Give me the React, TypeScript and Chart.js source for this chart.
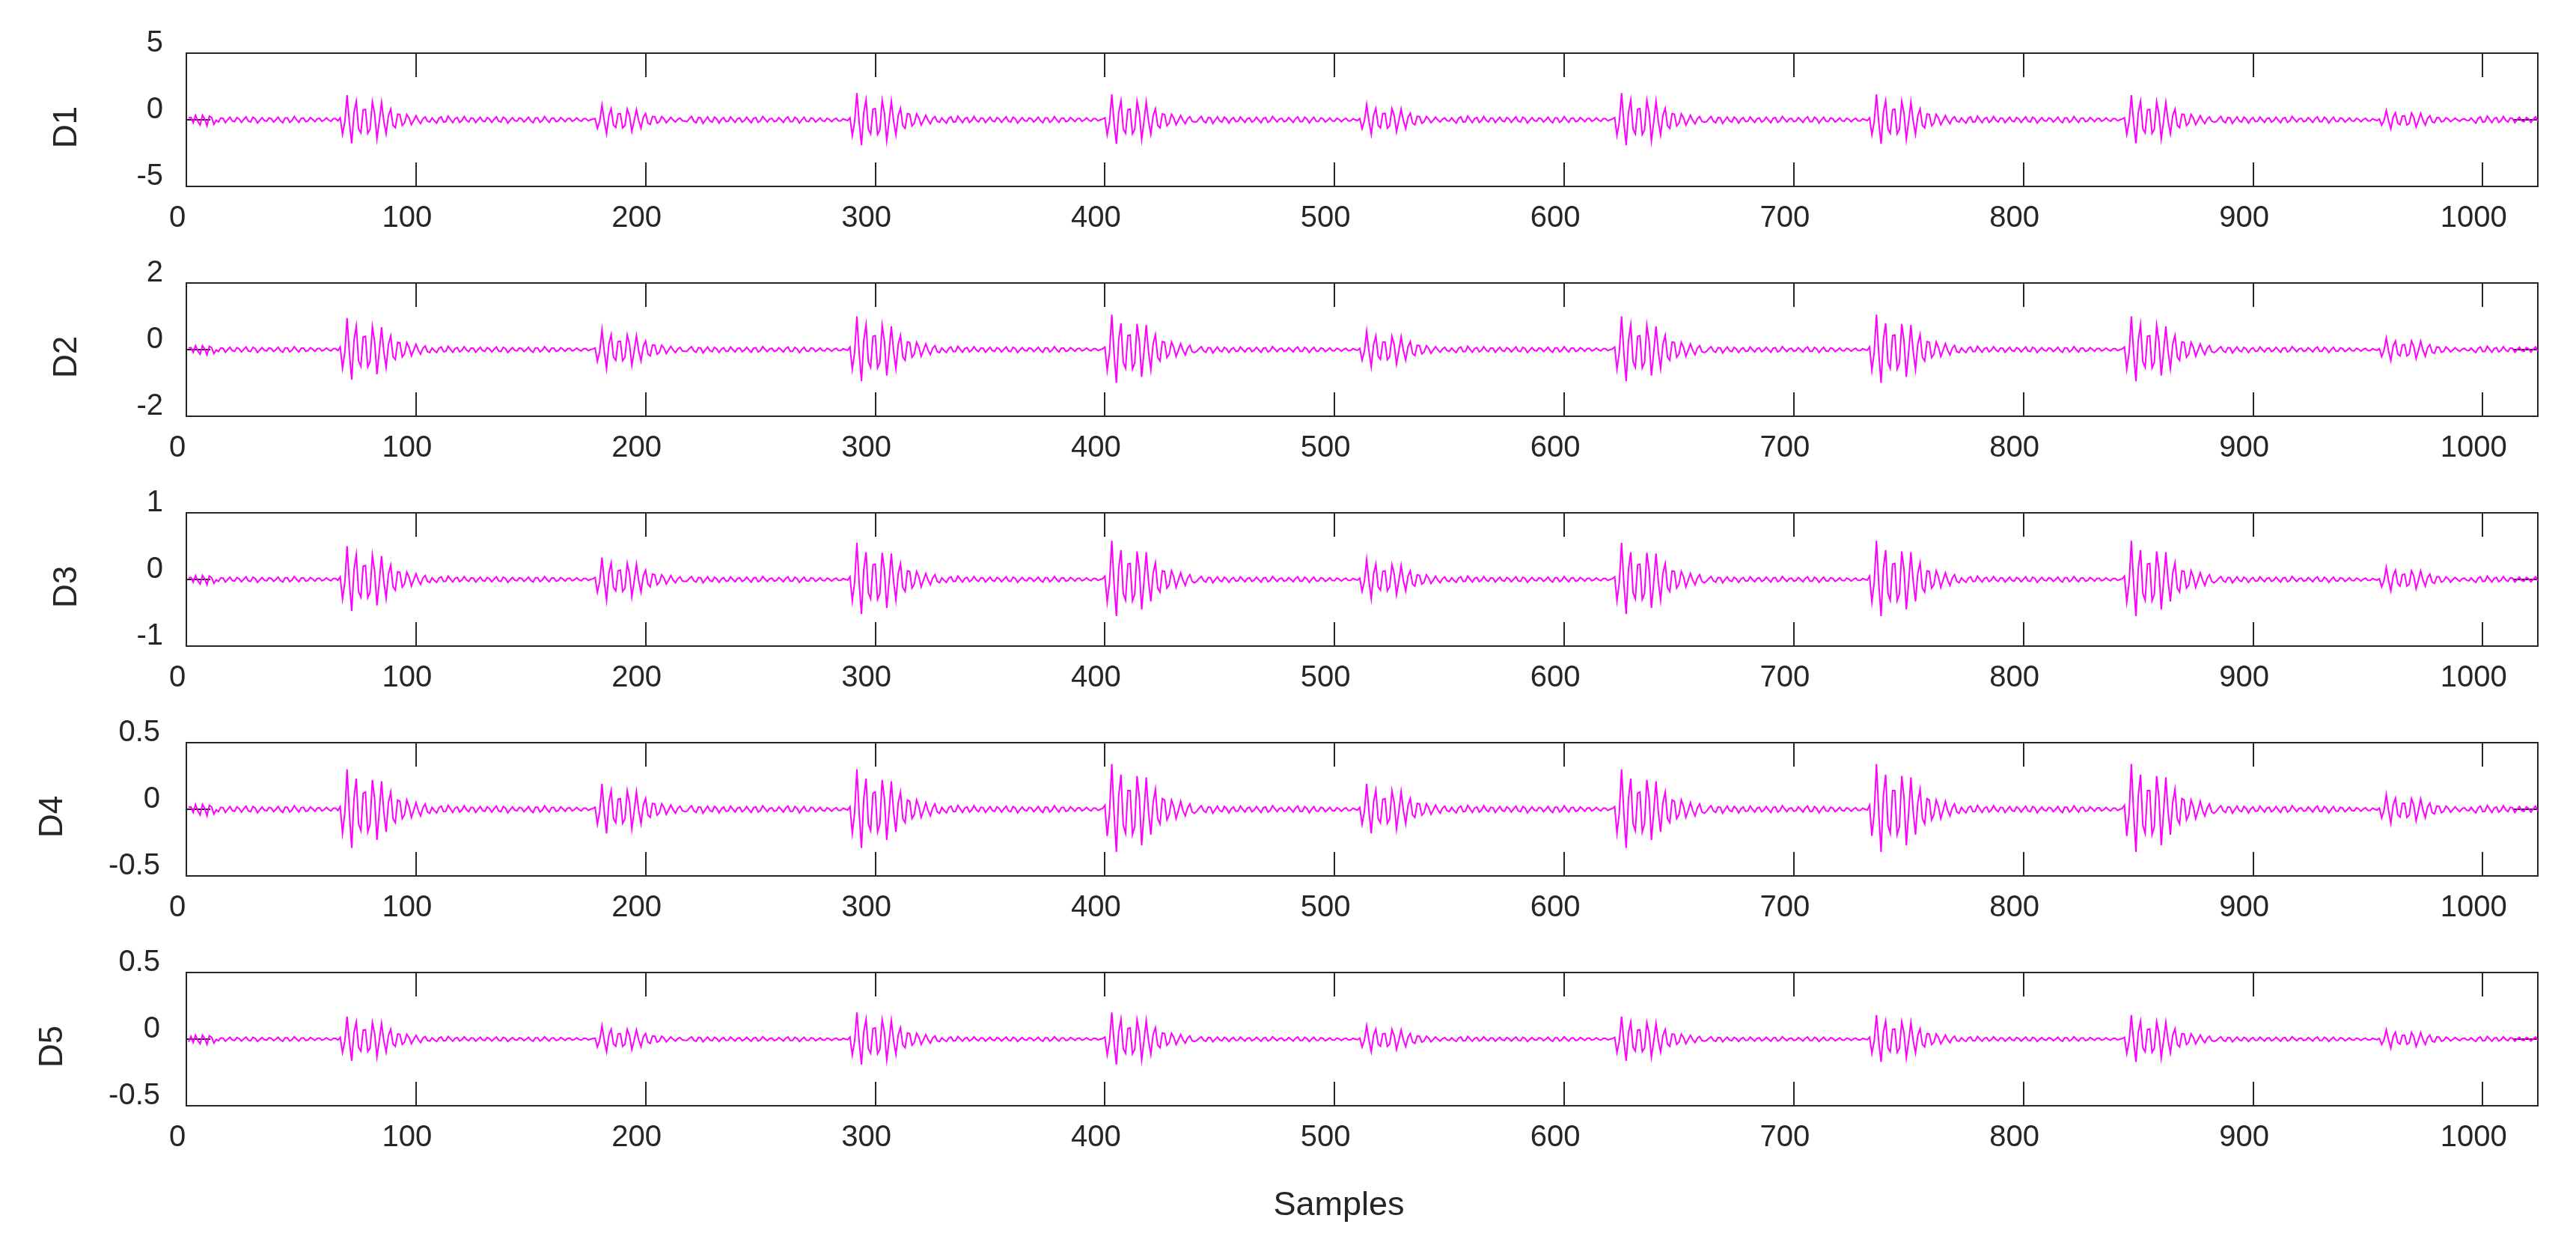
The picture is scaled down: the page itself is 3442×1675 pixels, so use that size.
import { useEffect, useRef } from 'react';
import { Chart, registerables } from 'chart.js';

Chart.register(...registerables);

// ---------------- data ----------------
const xTicks = [0, 100, 200, 300, 400, 500, 600, 700, 800, 900, 1000];
const panelLabels = ['D1', 'D2', 'D3', 'D4', 'D5'];
const yMins = [-5, -2, -1, -0.5, -0.5];
const yMaxs = [5, 2, 1, 0.5, 0.5];
const yTickValues = [[-5, 0, 5], [-2, 0, 2], [-1, 0, 1], [-0.5, 0, 0.5], [-0.5, 0, 0.5]];

// ---- D1 ----
const d1Lead = [.14,.17,-.22,.34,-.11,-.39,.34,.06,-.45,.28,.17,-.34,-.03,-.17,.14,.11,-.22,0,.2,-.08,-.14,.17,.06,-.2,.03,.22,-.11,-.17,.2,.08,-.25,-.03,.17,-.06,-.11,.14,.08,-.17,0,.2,-.08,-.22,.14,.14,-.2,-.06,.25,0,-.2,.11,.14,-.14,-.08,.17,.03,-.14,.08,.11,-.11,-.03,.14,-.03,-.11,.08,.08,-.08];
const d1GapA = [.14,-.08,-.25,.11,.22,-.17,-.14,.28,.03,-.22,.08,.17,-.2,-.06,.25,-.03,-.17,.14,.11,-.22,0,.2,-.08,-.14,.17,.06,-.2,.03,.22,-.11,-.17,.2,.08,-.25,-.03,.17,-.06,-.11,.14,.08,-.17,0,.2,-.08,-.22,.14,.14,-.2,-.06,.25,0,-.2,.11,.14,-.14,-.08,.17,.03,-.14,.08,.11,-.11,-.03,.14,-.03,-.11,.08,.08,-.08,0,.06];
const d1GapB = [-.14,.08,.25,-.11,-.22,.17,.14,-.28,-.03,.22,-.08,-.17,.2,.06,-.25,.03,.17,-.14,-.11,.22,0,-.2,.08,.14,-.17,-.06,.2,-.03,-.22,.11,.17,-.2,-.08,.25,.03,-.17,.06,.11,-.14,-.08,.17,0,-.2,.08,.22,-.14,-.14,.2,.06,-.25,0,.2,-.11,-.14,.14,.08,-.17,-.03,.14,-.08,-.11,.11,.03,-.14,.03,.11,-.08,-.08,.08,0,-.06];
const d1Tail = [.14,-.08,-.25,.11,.22,-.17,-.14,.28,.03,-.22,.08,.17,-.2,-.06,.25,-.03,-.17,.14,.11,-.22,0,.2,-.08,-.14,.17,.06,-.2,.03,.22,-.11];
const d1B1 = [.15,-1.09,-.17,1.85,-.19,-1.76,.52,1.39,-.67,-.98,.74,.78,-1.02,-.7,1.35,.46,-1.44,-.15,1.3,-.11,-1.05,.3,.8,-.41,-.59,.43,.39,-.43,-.24,.41,.13,-.37,-.04,.31,-.04,-.28,.07,.22,-.11,-.17];
const d1B2 = [.09,-.65,-.1,1.1,-.11,-1.05,.31,.83,-.4,-.58,.44,.46,-.61,-.42,.8,.28,-.86,-.09,.77,-.07,-.63,.18,.47,-.24,-.35,.25,.23,-.25,-.14,.24,.08,-.22,-.02,.19,-.02,-.17,.04,.13,-.07,-.1];
const d1B3 = [.16,-1.18,-.18,2,-.2,-1.9,.56,1.5,-.72,-1.06,.8,.84,-1.1,-.76,1.46,.5,-1.56,-.16,1.4,-.12,-1.14,.32,.86,-.44,-.64,.46,.42,-.46,-.26,.44,.14,-.4,-.04,.34,-.04,-.3,.08,.24,-.12,-.18];
const d1B4 = [.15,-1.12,-.17,1.9,-.19,-1.81,.53,1.43,-.68,-1.01,.76,.8,-1.05,-.72,1.39,.48,-1.48,-.15,1.33,-.11,-1.08,.3,.82,-.42,-.61,.44,.4,-.44,-.25,.42,.13,-.38,-.04,.32,-.04,-.29,.08,.23,-.11,-.17];
const d1B5 = [.09,-.68,-.1,1.15,-.12,-1.09,.32,.86,-.41,-.61,.46,.48,-.63,-.44,.84,.29,-.9,-.09,.81,-.07,-.66,.18,.49,-.25,-.37,.26,.24,-.26,-.15,.25,.08,-.23,-.02,.2,-.02,-.17,.05,.14,-.07,-.1];
const d1B6 = [.16,-1.18,-.18,2,-.2,-1.9,.56,1.5,-.72,-1.06,.8,.84,-1.1,-.76,1.46,.5,-1.56,-.16,1.4,-.12,-1.14,.32,.86,-.44,-.64,.46,.42,-.46,-.26,.44,.14,-.4,-.04,.34,-.04,-.3,.08,.24,-.12,-.18];
const d1B7 = [.15,-1.12,-.17,1.9,-.19,-1.81,.53,1.43,-.68,-1.01,.76,.8,-1.05,-.72,1.39,.48,-1.48,-.15,1.33,-.11,-1.08,.3,.82,-.42,-.61,.44,.4,-.44,-.25,.42,.13,-.38,-.04,.32,-.04,-.29,.08,.23,-.11,-.17];
const d1B8 = [.15,-1.09,-.17,1.85,-.19,-1.76,.52,1.39,-.67,-.98,.74,.78,-1.02,-.7,1.35,.46,-1.44,-.15,1.3,-.11,-1.05,.3,.8,-.41,-.59,.43,.39,-.43,-.24,.41,.13,-.37,-.04,.31,-.04,-.28,.07,.22,-.11,-.17];
const d1B9 = [.06,-.41,-.06,.7,-.07,-.67,.2,.53,-.25,-.37,.28,.29,-.39,-.27,.51,.18,-.55,-.06,.49,-.04,-.4,.11,.3,-.15,-.22,.16,.15,-.16,-.09,.15,.05,-.14,-.01,.12,-.01,-.11,.03,.08,-.04,-.06];

// ---- D2 ----
const d2Lead = [.05,.06,-.08,.12,-.04,-.14,.12,.02,-.16,.1,.06,-.12,-.01,-.06,.05,.04,-.08,0,.07,-.03,-.05,.06,.02,-.07,.01,.08,-.04,-.06,.07,.03,-.09,-.01,.06,-.02,-.04,.05,.03,-.06,0,.07,-.03,-.08,.05,.05,-.07,-.02,.09,0,-.07,.04,.05,-.05,-.03,.06,.01,-.05,.03,.04,-.04,-.01,.05,-.01,-.04,.03,.03,-.03];
const d2GapA = [.05,-.03,-.09,.04,.08,-.06,-.05,.1,.01,-.08,.03,.06,-.07,-.02,.09,-.01,-.06,.05,.04,-.08,0,.07,-.03,-.05,.06,.02,-.07,.01,.08,-.04,-.06,.07,.03,-.09,-.01,.06,-.02,-.04,.05,.03,-.06,0,.07,-.03,-.08,.05,.05,-.07,-.02,.09,0,-.07,.04,.05,-.05,-.03,.06,.01,-.05,.03,.04,-.04,-.01,.05,-.01,-.04,.03,.03,-.03,0,.02];
const d2GapB = [-.05,.03,.09,-.04,-.08,.06,.05,-.1,-.01,.08,-.03,-.06,.07,.02,-.09,.01,.06,-.05,-.04,.08,0,-.07,.03,.05,-.06,-.02,.07,-.01,-.08,.04,.06,-.07,-.03,.09,.01,-.06,.02,.04,-.05,-.03,.06,0,-.07,.03,.08,-.05,-.05,.07,.02,-.09,0,.07,-.04,-.05,.05,.03,-.06,-.01,.05,-.03,-.04,.04,.01,-.05,.01,.04,-.03,-.03,.03,0,-.02];
const d2Tail = [.05,-.03,-.09,.04,.08,-.06,-.05,.1,.01,-.08,.03,.06,-.07,-.02,.09,-.01,-.06,.05,.04,-.08,0,.07,-.03,-.05,.06,.02,-.07,.01,.08,-.04];
const d2B1 = [.08,-.56,-.09,.95,-.1,-.9,.27,.71,-.34,-.5,.38,.4,-.52,-.36,.69,.24,-.74,-.08,.67,-.06,-.54,.15,.41,-.21,-.3,.22,.2,-.22,-.12,.21,.07,-.19,-.02,.16,-.02,-.14,.04,.11,-.06,-.09];
const d2B2 = [.05,-.35,-.05,.6,-.06,-.57,.17,.45,-.22,-.32,.24,.25,-.33,-.23,.44,.15,-.47,-.05,.42,-.04,-.34,.1,.26,-.13,-.19,.14,.13,-.14,-.08,.13,.04,-.12,-.01,.1,-.01,-.09,.02,.07,-.04,-.05];
const d2B3 = [.08,-.59,-.09,1,-.1,-.95,.28,.75,-.36,-.53,.4,.42,-.55,-.38,.73,.25,-.78,-.08,.7,-.06,-.57,.16,.43,-.22,-.32,.23,.21,-.23,-.13,.22,.07,-.2,-.02,.17,-.02,-.15,.04,.12,-.06,-.09];
const d2B4 = [.08,-.62,-.09,1.05,-.11,-1,.29,.79,-.38,-.56,.42,.44,-.58,-.4,.77,.26,-.82,-.08,.74,-.06,-.6,.17,.45,-.23,-.34,.24,.22,-.24,-.14,.23,.07,-.21,-.02,.18,-.02,-.16,.04,.13,-.06,-.09];
const d2B5 = [.04,-.32,-.05,.55,-.06,-.52,.15,.41,-.2,-.29,.22,.23,-.3,-.21,.4,.14,-.43,-.04,.39,-.03,-.31,.09,.24,-.12,-.18,.13,.12,-.13,-.07,.12,.04,-.11,-.01,.09,-.01,-.08,.02,.07,-.03,-.05];
const d2B6 = [.08,-.59,-.09,1,-.1,-.95,.28,.75,-.36,-.53,.4,.42,-.55,-.38,.73,.25,-.78,-.08,.7,-.06,-.57,.16,.43,-.22,-.32,.23,.21,-.23,-.13,.22,.07,-.2,-.02,.17,-.02,-.15,.04,.12,-.06,-.09];
const d2B7 = [.08,-.62,-.09,1.05,-.11,-1,.29,.79,-.38,-.56,.42,.44,-.58,-.4,.77,.26,-.82,-.08,.74,-.06,-.6,.17,.45,-.23,-.34,.24,.22,-.24,-.14,.23,.07,-.21,-.02,.18,-.02,-.16,.04,.13,-.06,-.09];
const d2B8 = [.08,-.59,-.09,1,-.1,-.95,.28,.75,-.36,-.53,.4,.42,-.55,-.38,.73,.25,-.78,-.08,.7,-.06,-.57,.16,.43,-.22,-.32,.23,.21,-.23,-.13,.22,.07,-.2,-.02,.17,-.02,-.15,.04,.12,-.06,-.09];
const d2B9 = [.03,-.21,-.03,.35,-.04,-.33,.1,.26,-.13,-.19,.14,.15,-.19,-.13,.26,.09,-.27,-.03,.25,-.02,-.2,.06,.15,-.08,-.11,.08,.07,-.08,-.05,.08,.02,-.07,-.01,.06,-.01,-.05,.01,.04,-.02,-.03];

// ---- D3 ----
const d3Lead = [.025,.03,-.04,.06,-.02,-.07,.06,.01,-.08,.05,.03,-.06,-.005,-.03,.025,.02,-.04,0,.035,-.015,-.025,.03,.01,-.035,.005,.04,-.02,-.03,.035,.015,-.045,-.005,.03,-.01,-.02,.025,.015,-.03,0,.035,-.015,-.04,.025,.025,-.035,-.01,.045,0,-.035,.02,.025,-.025,-.015,.03,.005,-.025,.015,.02,-.02,-.005,.025,-.005,-.02,.015,.015,-.015];
const d3GapA = [.025,-.015,-.045,.02,.04,-.03,-.025,.05,.005,-.04,.015,.03,-.035,-.01,.045,-.005,-.03,.025,.02,-.04,0,.035,-.015,-.025,.03,.01,-.035,.005,.04,-.02,-.03,.035,.015,-.045,-.005,.03,-.01,-.02,.025,.015,-.03,0,.035,-.015,-.04,.025,.025,-.035,-.01,.045,0,-.035,.02,.025,-.025,-.015,.03,.005,-.025,.015,.02,-.02,-.005,.025,-.005,-.02,.015,.015,-.015,0,.01];
const d3GapB = [-.025,.015,.045,-.02,-.04,.03,.025,-.05,-.005,.04,-.015,-.03,.035,.01,-.045,.005,.03,-.025,-.02,.04,0,-.035,.015,.025,-.03,-.01,.035,-.005,-.04,.02,.03,-.035,-.015,.045,.005,-.03,.01,.02,-.025,-.015,.03,0,-.035,.015,.04,-.025,-.025,.035,.01,-.045,0,.035,-.02,-.025,.025,.015,-.03,-.005,.025,-.015,-.02,.02,.005,-.025,.005,.02,-.015,-.015,.015,0,-.01];
const d3Tail = [.025,-.015,-.045,.02,.04,-.03,-.025,.05,.005,-.04,.015,.03,-.035,-.01,.045,-.005,-.03,.025,.02,-.04,0,.035,-.015,-.025,.03,.01,-.035,.005,.04,-.02];
const d3B1 = [.04,-.295,-.045,.5,-.05,-.475,.14,.375,-.18,-.265,.2,.21,-.275,-.19,.365,.125,-.39,-.04,.35,-.03,-.285,.08,.215,-.11,-.16,.115,.105,-.115,-.065,.11,.035,-.1,-.01,.085,-.01,-.075,.02,.06,-.03,-.045];
const d3B2 = [.03,-.19,-.03,.33,-.03,-.31,.09,.25,-.12,-.17,.13,.14,-.18,-.13,.24,.08,-.26,-.03,.23,-.02,-.19,.05,.14,-.07,-.11,.08,.07,-.08,-.04,.07,.02,-.07,-.01,.06,-.01,-.05,.01,.04,-.02,-.03];
const d3B3 = [.04,-.32,-.05,.55,-.06,-.52,.15,.41,-.2,-.29,.22,.23,-.3,-.21,.4,.14,-.43,-.04,.39,-.03,-.31,.09,.24,-.12,-.18,.13,.12,-.13,-.07,.12,.04,-.11,-.01,.09,-.01,-.08,.02,.07,-.03,-.05];
const d3B4 = [.05,-.34,-.05,.58,-.06,-.55,.16,.44,-.21,-.31,.23,.24,-.32,-.22,.42,.15,-.45,-.05,.41,-.03,-.33,.09,.25,-.13,-.19,.13,.12,-.13,-.08,.13,.04,-.12,-.01,.1,-.01,-.09,.02,.07,-.03,-.05];
const d3B5 = [.02,-.18,-.03,.3,-.03,-.29,.08,.23,-.11,-.16,.12,.13,-.17,-.11,.22,.08,-.23,-.02,.21,-.02,-.17,.05,.13,-.07,-.1,.07,.06,-.07,-.04,.07,.02,-.06,-.01,.05,-.01,-.05,.01,.04,-.02,-.03];
const d3B6 = [.04,-.32,-.05,.55,-.06,-.52,.15,.41,-.2,-.29,.22,.23,-.3,-.21,.4,.14,-.43,-.04,.39,-.03,-.31,.09,.24,-.12,-.18,.13,.12,-.13,-.07,.12,.04,-.11,-.01,.09,-.01,-.08,.02,.07,-.03,-.05];
const d3B7 = [.05,-.34,-.05,.58,-.06,-.55,.16,.44,-.21,-.31,.23,.24,-.32,-.22,.42,.15,-.45,-.05,.41,-.03,-.33,.09,.25,-.13,-.19,.13,.12,-.13,-.08,.13,.04,-.12,-.01,.1,-.01,-.09,.02,.07,-.03,-.05];
const d3B8 = [.05,-.34,-.05,.58,-.06,-.55,.16,.44,-.21,-.31,.23,.24,-.32,-.22,.42,.15,-.45,-.05,.41,-.03,-.33,.09,.25,-.13,-.19,.13,.12,-.13,-.08,.13,.04,-.12,-.01,.1,-.01,-.09,.02,.07,-.03,-.05];
const d3B9 = [.01,-.11,-.02,.18,-.02,-.17,.05,.14,-.06,-.1,.07,.08,-.1,-.07,.13,.05,-.14,-.01,.13,-.01,-.1,.03,.08,-.04,-.06,.04,.04,-.04,-.02,.04,.01,-.04,0,.03,0,-.03,.01,.02,-.01,-.02];

// ---- D4 ----
const d4Lead = [.015,.018,-.024,.036,-.012,-.042,.036,.006,-.048,.03,.018,-.036,-.003,-.018,.015,.012,-.024,0,.021,-.009,-.015,.018,.006,-.021,.003,.024,-.012,-.018,.021,.009,-.027,-.003,.018,-.006,-.012,.015,.009,-.018,0,.021,-.009,-.024,.015,.015,-.021,-.006,.027,0,-.021,.012,.015,-.015,-.009,.018,.003,-.015,.009,.012,-.012,-.003,.015,-.003,-.012,.009,.009,-.009];
const d4GapA = [.015,-.009,-.027,.012,.024,-.018,-.015,.03,.003,-.024,.009,.018,-.021,-.006,.027,-.003,-.018,.015,.012,-.024,0,.021,-.009,-.015,.018,.006,-.021,.003,.024,-.012,-.018,.021,.009,-.027,-.003,.018,-.006,-.012,.015,.009,-.018,0,.021,-.009,-.024,.015,.015,-.021,-.006,.027,0,-.021,.012,.015,-.015,-.009,.018,.003,-.015,.009,.012,-.012,-.003,.015,-.003,-.012,.009,.009,-.009,0,.006];
const d4GapB = [-.015,.009,.027,-.012,-.024,.018,.015,-.03,-.003,.024,-.009,-.018,.021,.006,-.027,.003,.018,-.015,-.012,.024,0,-.021,.009,.015,-.018,-.006,.021,-.003,-.024,.012,.018,-.021,-.009,.027,.003,-.018,.006,.012,-.015,-.009,.018,0,-.021,.009,.024,-.015,-.015,.021,.006,-.027,0,.021,-.012,-.015,.015,.009,-.018,-.003,.015,-.009,-.012,.012,.003,-.015,.003,.012,-.009,-.009,.009,0,-.006];
const d4Tail = [.015,-.009,-.027,.012,.024,-.018,-.015,.03,.003,-.024,.009,.018,-.021,-.006,.027,-.003,-.018,.015,.012,-.024,0,.021,-.009,-.015,.018,.006,-.021,.003,.024,-.012];
const d4B1 = [.02,-.18,-.03,.3,-.03,-.29,.08,.23,-.11,-.16,.12,.13,-.17,-.11,.22,.08,-.23,-.02,.21,-.02,-.17,.05,.13,-.07,-.1,.07,.06,-.07,-.04,.07,.02,-.06,-.01,.05,-.01,-.05,.01,.04,-.02,-.03];
const d4B2 = [.015,-.112,-.017,.19,-.019,-.181,.053,.143,-.068,-.101,.076,.08,-.105,-.072,.139,.048,-.148,-.015,.133,-.011,-.108,.03,.082,-.042,-.061,.044,.04,-.044,-.025,.042,.013,-.038,-.004,.032,-.004,-.029,.008,.023,-.011,-.017];
const d4B3 = [.02,-.18,-.03,.3,-.03,-.29,.08,.23,-.11,-.16,.12,.13,-.17,-.11,.22,.08,-.23,-.02,.21,-.02,-.17,.05,.13,-.07,-.1,.07,.06,-.07,-.04,.07,.02,-.06,-.01,.05,-.01,-.05,.01,.04,-.02,-.03];
const d4B4 = [.03,-.2,-.03,.34,-.03,-.32,.1,.26,-.12,-.18,.14,.14,-.19,-.13,.25,.09,-.27,-.03,.24,-.02,-.19,.05,.15,-.07,-.11,.08,.07,-.08,-.04,.07,.02,-.07,-.01,.06,-.01,-.05,.01,.04,-.02,-.03];
const d4B5 = [.015,-.112,-.017,.19,-.019,-.181,.053,.143,-.068,-.101,.076,.08,-.105,-.072,.139,.048,-.148,-.015,.133,-.011,-.108,.03,.082,-.042,-.061,.044,.04,-.044,-.025,.042,.013,-.038,-.004,.032,-.004,-.029,.008,.023,-.011,-.017];
const d4B6 = [.02,-.18,-.03,.3,-.03,-.29,.08,.23,-.11,-.16,.12,.13,-.17,-.11,.22,.08,-.23,-.02,.21,-.02,-.17,.05,.13,-.07,-.1,.07,.06,-.07,-.04,.07,.02,-.06,-.01,.05,-.01,-.05,.01,.04,-.02,-.03];
const d4B7 = [.03,-.2,-.03,.34,-.03,-.32,.1,.26,-.12,-.18,.14,.14,-.19,-.13,.25,.09,-.27,-.03,.24,-.02,-.19,.05,.15,-.07,-.11,.08,.07,-.08,-.04,.07,.02,-.07,-.01,.06,-.01,-.05,.01,.04,-.02,-.03];
const d4B8 = [.03,-.2,-.03,.34,-.03,-.32,.1,.26,-.12,-.18,.14,.14,-.19,-.13,.25,.09,-.27,-.03,.24,-.02,-.19,.05,.15,-.07,-.11,.08,.07,-.08,-.04,.07,.02,-.07,-.01,.06,-.01,-.05,.01,.04,-.02,-.03];
const d4B9 = [.009,-.065,-.01,.11,-.011,-.105,.031,.083,-.04,-.058,.044,.046,-.061,-.042,.08,.028,-.086,-.009,.077,-.007,-.063,.018,.047,-.024,-.035,.025,.023,-.025,-.014,.024,.008,-.022,-.002,.019,-.002,-.017,.004,.013,-.007,-.01];

// ---- D5 ----
const d5Lead = [-.02,.02,-.025,.03,-.01,-.035,.03,.005,-.04,.025,.015,-.03,-.002,-.012,.01,.008,-.016,0,.014,-.006,-.01,.012,.004,-.014,.002,.016,-.008,-.012,.014,.006,-.018,-.002,.012,-.004,-.008,.01,.006,-.012,0,.014,-.006,-.016,.01,.01,-.014,-.004,.018,0,-.014,.008,.01,-.01,-.006,.012,.002,-.01,.006,.008,-.008,-.002,.01,-.002,-.008,.006,.006,-.006];
const d5GapA = [.01,-.006,-.018,.008,.016,-.012,-.01,.02,.002,-.016,.006,.012,-.014,-.004,.018,-.002,-.012,.01,.008,-.016,0,.014,-.006,-.01,.012,.004,-.014,.002,.016,-.008,-.012,.014,.006,-.018,-.002,.012,-.004,-.008,.01,.006,-.012,0,.014,-.006,-.016,.01,.01,-.014,-.004,.018,0,-.014,.008,.01,-.01,-.006,.012,.002,-.01,.006,.008,-.008,-.002,.01,-.002,-.008,.006,.006,-.006,0,.004];
const d5GapB = [-.01,.006,.018,-.008,-.016,.012,.01,-.02,-.002,.016,-.006,-.012,.014,.004,-.018,.002,.012,-.01,-.008,.016,0,-.014,.006,.01,-.012,-.004,.014,-.002,-.016,.008,.012,-.014,-.006,.018,.002,-.012,.004,.008,-.01,-.006,.012,0,-.014,.006,.016,-.01,-.01,.014,.004,-.018,0,.014,-.008,-.01,.01,.006,-.012,-.002,.01,-.006,-.008,.008,.002,-.01,.002,.008,-.006,-.006,.006,0,-.004];
const d5Tail = [.01,-.006,-.018,.008,.016,-.012,-.01,.02,.002,-.016,.006,.012,-.014,-.004,.018,-.002,-.012,.01,.008,-.016,0,.014,-.006,-.01,.012,.004,-.014,.002,.016,-.008];
const d5B1 = [.014,-.1,-.015,.17,-.017,-.162,.048,.128,-.061,-.09,.068,.071,-.094,-.065,.124,.043,-.133,-.014,.119,-.01,-.097,.027,.073,-.037,-.054,.039,.036,-.039,-.022,.037,.012,-.034,-.003,.029,-.003,-.026,.007,.02,-.01,-.015];
const d5B2 = [.008,-.059,-.009,.1,-.01,-.095,.028,.075,-.036,-.053,.04,.042,-.055,-.038,.073,.025,-.078,-.008,.07,-.006,-.057,.016,.043,-.022,-.032,.023,.021,-.023,-.013,.022,.007,-.02,-.002,.017,-.002,-.015,.004,.012,-.006,-.009];
const d5B3 = [.016,-.118,-.018,.2,-.02,-.19,.056,.15,-.072,-.106,.08,.084,-.11,-.076,.146,.05,-.156,-.016,.14,-.012,-.114,.032,.086,-.044,-.064,.046,.042,-.046,-.026,.044,.014,-.04,-.004,.034,-.004,-.03,.008,.024,-.012,-.018];
const d5B4 = [.016,-.118,-.018,.2,-.02,-.19,.056,.15,-.072,-.106,.08,.084,-.11,-.076,.146,.05,-.156,-.016,.14,-.012,-.114,.032,.086,-.044,-.064,.046,.042,-.046,-.026,.044,.014,-.04,-.004,.034,-.004,-.03,.008,.024,-.012,-.018];
const d5B5 = [.008,-.059,-.009,.1,-.01,-.095,.028,.075,-.036,-.053,.04,.042,-.055,-.038,.073,.025,-.078,-.008,.07,-.006,-.057,.016,.043,-.022,-.032,.023,.021,-.023,-.013,.022,.007,-.02,-.002,.017,-.002,-.015,.004,.012,-.006,-.009];
const d5B6 = [.014,-.1,-.015,.17,-.017,-.162,.048,.128,-.061,-.09,.068,.071,-.094,-.065,.124,.043,-.133,-.014,.119,-.01,-.097,.027,.073,-.037,-.054,.039,.036,-.039,-.022,.037,.012,-.034,-.003,.029,-.003,-.026,.007,.02,-.01,-.015];
const d5B7 = [.014,-.106,-.016,.18,-.018,-.171,.05,.135,-.065,-.095,.072,.076,-.099,-.068,.131,.045,-.14,-.014,.126,-.011,-.103,.029,.077,-.04,-.058,.041,.038,-.041,-.023,.04,.013,-.036,-.004,.031,-.004,-.027,.007,.022,-.011,-.016];
const d5B8 = [.014,-.106,-.016,.18,-.018,-.171,.05,.135,-.065,-.095,.072,.076,-.099,-.068,.131,.045,-.14,-.014,.126,-.011,-.103,.029,.077,-.04,-.058,.041,.038,-.041,-.023,.04,.013,-.036,-.004,.031,-.004,-.027,.007,.022,-.011,-.016];
const d5B9 = [.006,-.041,-.006,.07,-.007,-.067,.02,.053,-.025,-.037,.028,.029,-.039,-.027,.051,.018,-.055,-.006,.049,-.004,-.04,.011,.03,-.015,-.022,.016,.015,-.016,-.009,.015,.005,-.014,-.001,.012,-.001,-.011,.003,.008,-.004,-.006];

// full series: samples 1..1024 in reading order
const d1 = [...d1Lead, ...d1B1, ...d1GapA, ...d1B2, ...d1GapB, ...d1B3, ...d1GapA, ...d1B4, ...d1GapB, ...d1B5, ...d1GapA, ...d1B6, ...d1GapB, ...d1B7, ...d1GapA, ...d1B8, ...d1GapB, ...d1B9, ...d1Tail];
const d2 = [...d2Lead, ...d2B1, ...d2GapA, ...d2B2, ...d2GapB, ...d2B3, ...d2GapA, ...d2B4, ...d2GapB, ...d2B5, ...d2GapA, ...d2B6, ...d2GapB, ...d2B7, ...d2GapA, ...d2B8, ...d2GapB, ...d2B9, ...d2Tail];
const d3 = [...d3Lead, ...d3B1, ...d3GapA, ...d3B2, ...d3GapB, ...d3B3, ...d3GapA, ...d3B4, ...d3GapB, ...d3B5, ...d3GapA, ...d3B6, ...d3GapB, ...d3B7, ...d3GapA, ...d3B8, ...d3GapB, ...d3B9, ...d3Tail];
const d4 = [...d4Lead, ...d4B1, ...d4GapA, ...d4B2, ...d4GapB, ...d4B3, ...d4GapA, ...d4B4, ...d4GapB, ...d4B5, ...d4GapA, ...d4B6, ...d4GapB, ...d4B7, ...d4GapA, ...d4B8, ...d4GapB, ...d4B9, ...d4Tail];
const d5 = [...d5Lead, ...d5B1, ...d5GapA, ...d5B2, ...d5GapB, ...d5B3, ...d5GapA, ...d5B4, ...d5GapB, ...d5B5, ...d5GapA, ...d5B6, ...d5GapB, ...d5B7, ...d5GapA, ...d5B8, ...d5GapB, ...d5B9, ...d5Tail];

const seriesList = [d1, d2, d3, d4, d5];

// ---------------- layout / style ----------------
const PAGE_W = 3442;
const PLOT_LEFT = 249;
const PLOT_RIGHT = 3391;
const PLOT_H = 178;
const TOP_PAD = 60;
const panelTops = [71, 378, 685, 992, 1299];
const INK = '#262626';
const LINE = '#ff00ff';
const FONT = '"Liberation Sans", Arial, Helvetica, sans-serif';

function Panel({ index }: { index: number }) {
  const ref = useRef<HTMLCanvasElement | null>(null);
  const last = index === panelLabels.length - 1;
  const H = last ? 436 : 307;
  const canvasTop = panelTops[index] - TOP_PAD;

  useEffect(() => {
    const canvas = ref.current;
    if (!canvas) return;
    const values = seriesList[index];

    const framePlugin = {
      id: 'frame' + index,
      beforeDatasetsDraw(chart: any) {
        const { ctx, chartArea: a, scales } = chart;
        const xs = scales.x;
        const ys = scales.y;
        ctx.save();
        ctx.strokeStyle = INK;
        ctx.lineWidth = 2;
        ctx.beginPath();
        for (const v of xTicks) {
          const px = Math.round(xs.getPixelForValue(v));
          ctx.moveTo(px, a.bottom);
          ctx.lineTo(px, a.bottom - 32);
          ctx.moveTo(px, a.top);
          ctx.lineTo(px, a.top + 32);
        }
        for (const v of yTickValues[index]) {
          const py = Math.round(ys.getPixelForValue(v));
          ctx.moveTo(a.left, py);
          ctx.lineTo(a.left + 32, py);
          ctx.moveTo(a.right, py);
          ctx.lineTo(a.right - 32, py);
        }
        ctx.stroke();
        ctx.strokeRect(a.left, a.top, a.right - a.left, a.bottom - a.top);
        ctx.restore();
      },
      afterDraw(chart: any) {
        const { ctx, chartArea: a } = chart;
        ctx.save();
        ctx.fillStyle = INK;
        ctx.font = `44px ${FONT}`;
        ctx.textAlign = 'center';
        ctx.textBaseline = 'alphabetic';
        const bx = index < 3 ? 102 : 83;
        ctx.translate(bx, (a.top + a.bottom) / 2 + 10);
        ctx.rotate(-Math.PI / 2);
        ctx.fillText(panelLabels[index], 0, 0);
        ctx.restore();
        if (last) {
          ctx.save();
          ctx.fillStyle = INK;
          ctx.font = `45px ${FONT}`;
          ctx.textAlign = 'center';
          ctx.textBaseline = 'alphabetic';
          ctx.fillText('Samples', 1789, 1623 - canvasTop);
          ctx.restore();
        }
      },
    };

    const chart = new Chart(canvas, {
      type: 'line',
      data: {
        datasets: [
          {
            label: panelLabels[index],
            data: values.map((v, i) => ({ x: i + 1, y: v })),
            borderColor: LINE,
            borderWidth: 2,
            pointRadius: 0,
            tension: 0,
            fill: false,
          },
        ],
      },
      options: {
        responsive: false,
        animation: false,
        devicePixelRatio: 1,
        events: [],
        layout: { padding: { left: 0, right: PAGE_W - PLOT_RIGHT, top: TOP_PAD, bottom: 0 } },
        plugins: { legend: { display: false }, tooltip: { enabled: false } },
        scales: {
          x: {
            type: 'linear',
            min: 0,
            max: 1024,
            grid: { display: false, drawTicks: false },
            border: { display: false },
            afterBuildTicks: (s: any) => {
              s.ticks = xTicks.map((v) => ({ value: v }));
            },
            afterFit: (s: any) => {
              s.height = H - TOP_PAD - PLOT_H;
            },
            ticks: {
              autoSkip: false,
              maxRotation: 0,
              minRotation: 0,
              padding: 19,
              color: INK,
              font: { family: FONT, size: 40 },
              callback: (v: any) => String(v),
              labelOffset: (c: any) => {
                const val = c.tick ? c.tick.value : 100;
                return val === 0 ? -5 : val >= 1000 ? -19 : -12;
              },
            },
          },
          y: {
            type: 'linear',
            min: yMins[index],
            max: yMaxs[index],
            grid: { display: false, drawTicks: false },
            border: { display: false },
            afterBuildTicks: (s: any) => {
              s.ticks = yTickValues[index].map((v) => ({ value: v }));
            },
            afterFit: (s: any) => {
              s.width = PLOT_LEFT;
            },
            ticks: {
              padding: index < 3 ? 31 : 35,
              color: INK,
              font: { family: FONT, size: 40 },
              callback: (v: any) => String(v),
              labelOffset: (c: any) => (c.index === 0 ? -17 : -13),
            },
          },
        },
      },
      plugins: [framePlugin],
    } as any);

    return () => chart.destroy();
  }, [index]);

  return (
    <canvas
      ref={ref}
      width={PAGE_W}
      height={H}
      style={{ position: 'absolute', left: 0, top: canvasTop, width: PAGE_W, height: H, display: 'block' }}
    />
  );
}

export default function App() {
  return (
    <div
      style={{
        position: 'absolute',
        left: 0,
        top: 0,
        width: PAGE_W,
        height: 1675,
        background: '#ffffff',
        overflow: 'hidden',
      }}
    >
      {panelLabels.map((_, i) => (
        <Panel key={i} index={i} />
      ))}
    </div>
  );
}
